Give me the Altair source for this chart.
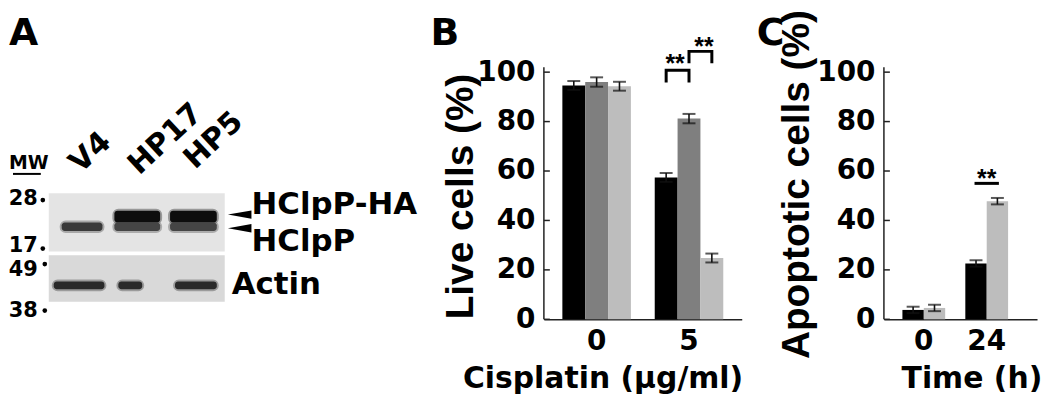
import altair as alt
import pandas as pd

FONT = "DejaVu Sans"
TFONT = "Liberation Sans"

# ---------------- Panel B : live cells ----------------
b_groups = ["0", "5"]
b_series = ["V4", "HP17", "HP5"]
b_colors = ["#000000", "#7f7f7f", "#bdbdbd"]
b_live = [[94.6, 96.0, 94.3], [57.4, 81.2, 24.8]]
b_err = [[1.8, 1.9, 1.8], [1.8, 1.9, 1.8]]

# significance brackets (group "5")
b_br_left = ["V4", "HP17"]
b_br_right = ["HP17", "HP5"]
b_br_low = [96.4, 104.2]
b_br_high = [100.8, 108.4]
b_star_y = [100.0, 107.1]

# ---------------- Panel C : apoptotic cells ----------------
c_groups = ["0", "24"]
c_series = ["V4", "HP5"]
c_colors = ["#000000", "#bdbdbd"]
c_apop = [[3.8, 4.6], [22.6, 47.8]]
c_err = [[1.3, 1.3], [1.3, 1.3]]
c_sig_y = [55.0]
c_star_y = [53.5]

yticks = [0, 20, 40, 60, 80, 100]
axis_top = [102]

# ---------------- Panel A : western blot ----------------
lanes = ["V4", "HP17", "HP5"]
lane_label_x = [75, 134, 190]
lane_label_y = [173, 175, 169]

blot_x1 = [43, 43]
blot_x2 = [220, 220]
blot_y1 = [193, 257]
blot_y2 = [253, 305]
blot_shade = ["#e4e4e4", "#d9d9d9"]

band_lane = ["V4", "HP17", "HP17", "HP5", "HP5", "V4", "HP17", "HP5"]
band_x1 = [56, 109, 109, 165, 165, 48, 113, 170]
band_x2 = [97, 155, 155, 212, 212, 99, 137, 212]
band_y1 = [223, 211, 223, 211, 223, 284, 284, 284]
band_y2 = [232, 223, 232, 223, 232, 292, 292, 292]
band_shade = ["#3a3a3a", "#0d0d0d", "#454545", "#0d0d0d", "#454545", "#2a2a2a", "#2a2a2a", "#2a2a2a"]

mw_text = ["28", "17", "49", "38"]
mw_x = [32, 32, 32, 32]
mw_y = [205, 254, 278, 321]
mw_dot_x = [37, 37, 39, 39]
mw_dot_y = [200, 250, 266, 314]

prot_text = ["HClpP-HA", "HClpP", "Actin"]
prot_x = [247, 247, 227]
prot_y = [214, 253, 297]
arrow_x = [235, 235]
arrow_y = [215, 229]

panel_letters = ["A", "B", "C"]

# ================= Panel A =================
xA = alt.Scale(domain=[3, 398], range=[0, 395])
yA = alt.Scale(domain=[3, 323], range=[0, 312])


def XA(f):
    return alt.X(f, type="quantitative", scale=xA, axis=None)


def YA(f):
    return alt.Y(f, type="quantitative", scale=yA, axis=None)


blot_df = pd.DataFrame({"x1": blot_x1, "x2": blot_x2, "y1": blot_y1, "y2": blot_y2, "shade": blot_shade})
band_df = pd.DataFrame({"lane": band_lane, "x1": band_x1, "x2": band_x2, "y1": band_y1,
                        "y2": band_y2, "shade": band_shade})
mw_df = pd.DataFrame({"t": mw_text, "x": mw_x, "y": mw_y, "dx": mw_dot_x, "dy": mw_dot_y})
lane_df = pd.DataFrame({"t": lanes, "x": lane_label_x, "y": lane_label_y})
prot_df = pd.DataFrame({"t": prot_text, "x": prot_x, "y": prot_y})
arrow_df = pd.DataFrame({"x": arrow_x, "y": arrow_y})
mwhead_df = pd.DataFrame({"t": ["MW"], "x": [3], "y": [168], "ux1": [7], "ux2": [35], "uy": [173]})

blot_bg = alt.Chart(blot_df).mark_rect().encode(
    x=XA("x1"), x2="x2", y=YA("y1"), y2="y2", color=alt.Color("shade:N", scale=None))
band_halo = alt.Chart(band_df).mark_rect(cornerRadius=4, opacity=0.35).encode(
    x=XA("x1"), x2="x2", y=YA("y1"), y2="y2", color=alt.Color("shade:N", scale=None),
    stroke=alt.Color("shade:N", scale=None), strokeWidth=alt.value(4))
band_core = alt.Chart(band_df).mark_rect(cornerRadius=3).encode(
    x=XA("x1"), x2="x2", y=YA("y1"), y2="y2", color=alt.Color("shade:N", scale=None))
mw_labels = alt.Chart(mw_df).mark_text(font=FONT, fontWeight="bold", fontSize=21, align="right",
                                       baseline="alphabetic", color="black").encode(
    x=XA("x"), y=YA("y"), text="t:N")
mw_dots = alt.Chart(mw_df).mark_point(filled=True, shape="circle", size=22, color="black", opacity=1).encode(
    x=XA("dx"), y=YA("dy"))
mw_head = alt.Chart(mwhead_df).mark_text(font=FONT, fontWeight="bold", fontSize=19, align="left",
                                         baseline="alphabetic", color="black").encode(
    x=XA("x"), y=YA("y"), text="t:N")
mw_line = alt.Chart(mwhead_df).mark_rule(strokeWidth=2, color="black").encode(
    x=XA("ux1"), x2="ux2", y=YA("uy"))
lane_labels = alt.Chart(lane_df).mark_text(font=FONT, fontWeight="bold", fontSize=30, angle=317,
                                           align="left", baseline="alphabetic", color="black").encode(
    x=XA("x"), y=YA("y"), text="t:N")
prot_labels = alt.Chart(prot_df).mark_text(font=FONT, fontWeight="bold", fontSize=31, align="left",
                                           baseline="alphabetic", color="black").encode(
    x=XA("x"), y=YA("y"), text="t:N")
arrows = alt.Chart(arrow_df).mark_point(filled=True, shape="M-1,0L1,-0.36L1,0.36Z", size=560,
                                        color="black", opacity=1).encode(x=XA("x"), y=YA("y"))


def letter_layer(letter, x_px):
    return alt.Chart(pd.DataFrame({"t": [letter]})).mark_text(
        font=FONT, fontWeight="bold", fontSize=38, align="left", baseline="alphabetic",
        color="black").encode(x=alt.value(x_px), y=alt.value(36), text="t:N")


panelA = alt.layer(blot_bg, band_halo, band_core, mw_labels, mw_dots, mw_head, mw_line,
                   lane_labels, prot_labels, arrows,
                   letter_layer(panel_letters[0], 0)).properties(width=395, height=312)


# ================= Bar panels =================
def bar_panel(groups, series, colors, values, errs, xscale, ytitle, xtitle,
              ytitle_x, ytitle_y, xtitle_x, letter, letter_x):
    rows = []
    for gi, g in enumerate(groups):
        for si, s in enumerate(series):
            v = values[gi][si]
            e = errs[gi][si]
            rows.append({"group": g, "series": s, "value": v, "lo": v - e, "hi": v + e})
    df = pd.DataFrame(rows)
    yscale = alt.Scale(domain=[0, 125.5], nice=False, zero=True)
    xaxis = alt.Axis(title=xtitle, labelAngle=0, ticks=False, tickSize=0, labelPadding=30,
                     labelBaseline="alphabetic", labelFontSize=28, titleFontSize=30,
                     titleX=xtitle_x, titleY=69, titleAlign="center", titleBaseline="alphabetic",
                     domainWidth=1.5, domainColor="#222", grid=False)
    yaxis = alt.Axis(values=yticks, grid=False, domain=False, ticks=False, tickSize=0,
                     labelPadding=9, labelFontSize=28, title=ytitle, titleFontSize=39,
                     titleFont=TFONT, titleX=ytitle_x, titleY=ytitle_y, titleAngle=270,
                     titleAlign="center", titleBaseline="alphabetic")

    def X():
        return alt.X("group:N", sort=groups, scale=xscale, axis=xaxis)

    def XO():
        return alt.XOffset("series:N", sort=series, scale=alt.Scale(domain=series))

    def Y(f):
        return alt.Y(f, type="quantitative", scale=yscale, axis=yaxis)

    bars = alt.Chart(df).mark_bar().encode(
        x=X(), xOffset=XO(), y=Y("value"),
        color=alt.Color("series:N", scale=alt.Scale(domain=series, range=colors), legend=None))
    err = alt.Chart(df).mark_rule(strokeWidth=1.6, color="#111").encode(
        x=X(), xOffset=XO(), y=Y("lo"), y2="hi")
    cap_hi = alt.Chart(df).mark_tick(size=13, thickness=2, color="#111").encode(
        x=X(), xOffset=XO(), y=Y("hi"))
    cap_lo = alt.Chart(df).mark_tick(size=13, thickness=2, color="#111").encode(
        x=X(), xOffset=XO(), y=Y("lo"))
    yline = alt.Chart(pd.DataFrame({"lo": [0], "hi": axis_top})).mark_rule(
        strokeWidth=1.5, color="#222").encode(x=alt.value(0), y=Y("lo"), y2="hi")
    yt = alt.Chart(pd.DataFrame({"v": yticks})).mark_rule(strokeWidth=1.5, color="#222").encode(
        x=alt.value(0), x2=alt.value(6), y=Y("v"))
    return X, XO, Y, [bars, err, cap_hi, cap_lo, yline, yt, letter_layer(letter, letter_x)]


def stars(X, Y, group, value, dx):
    sdf = pd.DataFrame({"group": [group], "value": [value], "t": ["**"]})
    return alt.Chart(sdf).mark_text(font=TFONT, fontWeight="bold", fontSize=25, dx=dx,
                                    baseline="alphabetic", color="black").encode(
        x=X(), y=Y("value"), text="t:N")


# ---- B ----
xB = alt.Scale(domain=b_groups, paddingInner=0.258, paddingOuter=0.2)
XB, XOB, YB, layersB = bar_panel(b_groups, b_series, b_colors, b_live, b_err, xB,
                                 "Live cells (%)", "Cisplatin (μg/ml)", -72, 188, 59,
                                 panel_letters[1], -114)
br_rows = []
for i in range(len(b_br_left)):
    pts = [(b_br_left[i], b_br_low[i]), (b_br_left[i], b_br_high[i]),
           (b_br_right[i], b_br_high[i]), (b_br_right[i], b_br_low[i])]
    for k, (s, v) in enumerate(pts):
        br_rows.append({"group": b_groups[1], "series": s, "value": v, "br": i, "k": k})
brB = alt.Chart(pd.DataFrame(br_rows)).mark_line(strokeWidth=3, color="black", strokeJoin="miter",
                                                  strokeCap="square").encode(
    x=XB(), xOffset=XOB(), y=YB("value"), detail="br:N", order="k:Q")
star_layers = [stars(XB, YB, b_groups[1], b_star_y[0], -14),
               stars(XB, YB, b_groups[1], b_star_y[1], 15)]
panelB = alt.layer(*layersB, brB, *star_layers).properties(width=199, height=312)

# ---- C ----
xC = alt.Scale(domain=c_groups, paddingInner=0.32, paddingOuter=0.377, align=0.39)
XC, XOC, YC, layersC = bar_panel(c_groups, c_series, c_colors, c_apop, c_err, xC,
                                 "Apoptotic cells (%)", "Time (h)", -76, 176, 88,
                                 panel_letters[2], -128)
sigC = pd.DataFrame({"group": [c_groups[1], c_groups[1]], "series": c_series,
                     "value": [c_sig_y[0], c_sig_y[0]]})
lineC = alt.Chart(sigC).mark_line(strokeWidth=3, color="black", strokeCap="square").encode(
    x=XC(), xOffset=XOC(), y=YC("value"))
starC = stars(XC, YC, c_groups[1], c_star_y[0], 0)
panelC = alt.layer(*layersC, lineC, starC).properties(width=154, height=312)

chart = alt.hconcat(panelA, panelB, panelC, spacing=143, bounds="flush", padding=0).resolve_scale(
    x="independent", y="independent", xOffset="independent", color="independent").configure_view(
    stroke=None).configure_axis(
    labelFont=FONT, titleFont=FONT, labelFontWeight="bold", titleFontWeight="bold",
    labelColor="black", titleColor="black")

chart.save("out.html", embed_options={"renderer": "svg", "actions": False})
